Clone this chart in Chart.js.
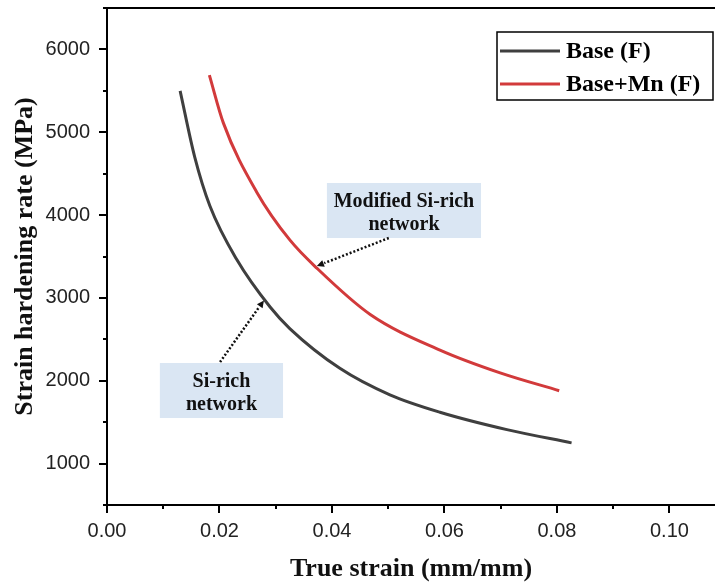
<!DOCTYPE html>
<html>
<head>
<meta charset="utf-8">
<script src="https://cdn.jsdelivr.net/npm/chart.js@4"></script>
<style>
  html, body { margin: 0; padding: 0; background: #fff; }
  #wrap { width: 715px; height: 585px; }
</style>
</head>
<body>
<div id="wrap"><canvas id="chart" width="715" height="585"></canvas></div>
<script>
// values
const baseStrain = [0.0130, 0.0156, 0.0183, 0.0231, 0.0290, 0.0325, 0.0414, 0.0503, 0.0592, 0.0711, 0.0826];
const baseRate   = [5500, 4700, 4110, 3460, 2890, 2630, 2150, 1830, 1620, 1410, 1250];
const mnStrain   = [0.0182, 0.0207, 0.0266, 0.0325, 0.0373, 0.0468, 0.0592, 0.0699, 0.0804];
const mnRate     = [5690, 5110, 4280, 3700, 3360, 2800, 2370, 2095, 1880];

const seriesNames = ["Base (F)", "Base+Mn (F)"];
const seriesColors = ["#3f3f3f", "#d23a3b"];

const xTicks = [0, 0.02, 0.04, 0.06, 0.08, 0.10];
const yTicks = [1000, 2000, 3000, 4000, 5000, 6000];

// text boxes with dotted arrows (data coordinates)
const notes = [
  { lines: ["Modified Si-rich", "network"], box: [0.0391, 4387, 0.0665, 3723],
    from: [0.0501, 3723], to: [0.0373, 3385] },
  { lines: ["Si-rich", "network"], box: [0.0094, 2214, 0.0313, 1550],
    from: [0.0201, 2226], to: [0.0279, 2970] }
];

const serif = "'Liberation Serif', 'Times New Roman', serif";
const sans = "'Liberation Sans', Arial, sans-serif";

const toPoints = (xs, ys) => xs.map((x, i) => ({ x: x, y: ys[i] }));

const noPad = s => { s.paddingTop = 0; s.paddingBottom = 0; s.paddingLeft = 0; s.paddingRight = 0; };

const decorations = {
  id: 'decorations',
  afterDraw(chart) {
    const ctx = chart.ctx;
    const xs = chart.scales.x, ys = chart.scales.y;
    const a = chart.chartArea;
    ctx.save();

    // top frame line
    ctx.strokeStyle = '#000';
    ctx.lineWidth = 2;
    ctx.beginPath();
    ctx.moveTo(a.left - 1, a.top);
    ctx.lineTo(a.right, a.top);
    ctx.stroke();

    // tick marks, major and minor
    ctx.lineWidth = 2;
    for (let v = 500; v <= 6500; v += 500) {
      const py = Math.round(ys.getPixelForValue(v));
      const len = v % 1000 === 0 ? 8 : 4;
      ctx.beginPath();
      ctx.moveTo(a.left, py);
      ctx.lineTo(a.left - len, py);
      ctx.stroke();
    }
    for (let i = 0; i <= 10; i++) {
      const px = Math.round(xs.getPixelForValue(i * 0.01));
      const len = i % 2 === 0 ? 8 : 4;
      ctx.beginPath();
      ctx.moveTo(px, a.bottom);
      ctx.lineTo(px, a.bottom + len);
      ctx.stroke();
    }

    // annotation boxes
    notes.forEach(n => {
      const x0 = xs.getPixelForValue(n.box[0]), y0 = ys.getPixelForValue(n.box[1]);
      const x1 = xs.getPixelForValue(n.box[2]), y1 = ys.getPixelForValue(n.box[3]);
      ctx.fillStyle = '#dae6f3';
      ctx.fillRect(x0, y0, x1 - x0, y1 - y0);
      ctx.fillStyle = '#111';
      ctx.font = 'bold 20px ' + serif;
      ctx.textAlign = 'center';
      ctx.textBaseline = 'alphabetic';
      const cx = (x0 + x1) / 2;
      const midY = (y0 + y1) / 2;
      ctx.fillText(n.lines[0], cx, midY - 4);
      ctx.fillText(n.lines[1], cx, midY + 19);

      // dotted arrow
      const fx = xs.getPixelForValue(n.from[0]), fy = ys.getPixelForValue(n.from[1]);
      const tx = xs.getPixelForValue(n.to[0]), ty = ys.getPixelForValue(n.to[1]);
      const ang = Math.atan2(ty - fy, tx - fx);
      const head = 8;
      ctx.strokeStyle = '#111';
      ctx.lineWidth = 2.5;
      ctx.setLineDash([2, 2]);
      ctx.beginPath();
      ctx.moveTo(fx, fy);
      ctx.lineTo(tx - Math.cos(ang) * head, ty - Math.sin(ang) * head);
      ctx.stroke();
      ctx.setLineDash([]);
      ctx.fillStyle = '#111';
      ctx.beginPath();
      ctx.moveTo(tx, ty);
      ctx.lineTo(tx - Math.cos(ang - 0.45) * head, ty - Math.sin(ang - 0.45) * head);
      ctx.lineTo(tx - Math.cos(ang + 0.45) * head, ty - Math.sin(ang + 0.45) * head);
      ctx.closePath();
      ctx.fill();
    });

    // legend box
    const lx = a.right - 218, ly = a.top + 24, lw = 216, lh = 68;
    ctx.strokeStyle = '#000';
    ctx.lineWidth = 1.5;
    ctx.strokeRect(lx, ly, lw, lh);
    ctx.font = 'bold 24px ' + serif;
    ctx.textAlign = 'left';
    ctx.textBaseline = 'middle';
    chart.data.datasets.forEach((ds, i) => {
      const yy = ly + 19 + i * 33;
      ctx.strokeStyle = ds.borderColor;
      ctx.lineWidth = 3;
      ctx.beginPath();
      ctx.moveTo(lx + 3, yy);
      ctx.lineTo(lx + 63, yy);
      ctx.stroke();
      ctx.fillStyle = '#000';
      ctx.fillText(ds.label, lx + 69, yy + 1);
    });

    ctx.restore();
  }
};

new Chart(document.getElementById('chart'), {
  type: 'scatter',
  data: {
    datasets: [
      { label: seriesNames[0], data: toPoints(baseStrain, baseRate) },
      { label: seriesNames[1], data: toPoints(mnStrain, mnRate) }
    ].map((d, i) => Object.assign(d, {
      showLine: true,
      borderColor: seriesColors[i],
      backgroundColor: seriesColors[i],
      borderWidth: 3,
      pointRadius: 0,
      cubicInterpolationMode: 'monotone'
    }))
  },
  options: {
    responsive: false,
    animation: false,
    layout: { padding: { top: 8, left: 0, right: 0, bottom: 0 } },
    plugins: { legend: { display: false }, tooltip: { enabled: false } },
    scales: {
      x: {
        type: 'linear',
        min: 0,
        max: 0.1081,
        afterBuildTicks: s => { s.ticks = xTicks.map(v => ({ value: v })); },
        afterFit: s => { s.height = 80; noPad(s); },
        grid: { drawOnChartArea: false, tickLength: 8, tickColor: 'rgba(0,0,0,0)' },
        border: { color: '#000', width: 2 },
        ticks: {
          padding: 6,
          color: '#222',
          font: { family: sans, size: 20 },
          maxRotation: 0,
          callback: v => Number(v).toFixed(2)
        },
        title: {
          display: true,
          text: 'True strain (mm/mm)',
          color: '#111',
          font: { family: serif, size: 26, weight: 'bold' },
          padding: { top: 3, bottom: 0 }
        }
      },
      y: {
        min: 500,
        max: 6500,
        afterBuildTicks: s => { s.ticks = yTicks.map(v => ({ value: v })); },
        afterFit: s => { s.width = 107; noPad(s); },
        grid: { drawOnChartArea: false, tickLength: 8, tickColor: 'rgba(0,0,0,0)' },
        border: { color: '#000', width: 2 },
        ticks: {
          padding: 9,
          color: '#222',
          font: { family: sans, size: 20 },
          callback: v => String(v)
        },
        title: {
          display: true,
          text: 'Strain hardening rate (MPa)',
          color: '#111',
          font: { family: serif, size: 26, weight: 'bold' },
          padding: { top: 10, bottom: 0 }
        }
      }
    }
  },
  plugins: [decorations]
});
</script>
</body>
</html>
